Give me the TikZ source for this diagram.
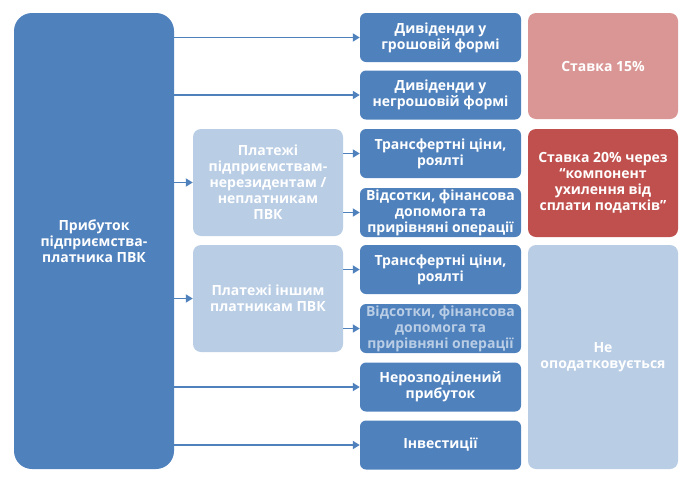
\documentclass[tikz,border=0pt]{standalone}
\usepackage{fontspec}
\setmainfont{Open Sans}
\usepackage{xcolor}
\usetikzlibrary{arrows.meta}

\definecolor{pvkblue}{HTML}{4F81BD}
\definecolor{pvklight}{HTML}{B9CDE5}
\definecolor{pvkpink}{HTML}{D99694}
\definecolor{pvkred}{HTML}{C0504D}

\begin{document}
\begin{tikzpicture}[x=1pt, y=-1pt,
            main/.style={rectangle, rounded corners=18pt, fill=pvkblue, text=white,
            minimum width=160pt, minimum height=456pt, align=center, font=\bfseries\fontsize{14}{16}\selectfont},
            grp/.style={rectangle, rounded corners=8pt, fill=pvklight, text=white,
            minimum width=150pt, minimum height=107pt, align=center, font=\bfseries\fontsize{14}{16}\selectfont},
            item/.style={rectangle, rounded corners=6pt, fill=pvkblue, text=white, inner sep=1pt,
            minimum width=161pt, minimum height=49pt, align=center, font=\bfseries\fontsize{14}{16}\selectfont},
            rate/.style={rectangle, rounded corners=8pt, text=white,
            minimum width=150pt, align=center, font=\bfseries\fontsize{14}{16}\selectfont},
            flow/.style={-{Triangle[length=7pt,width=8pt]}, line width=1.8pt, pvkblue}
        ]
            \useasboundingbox (0,0) rectangle (690,480);

            % Source
            \node[main] (prib)  at (94,241)    {Прибуток\\підприємства-\\платника ПВК};

            % Payment groups
            \node[grp]  (nonres) at (268,182.5) {Платежі\\підприємствам-\\нерезидентам /\\неплатникам\\ПВК};
            \node[grp]  (other)  at (268,298.5) {Платежі іншим\\платникам ПВК};

            % Items (right column)
            \node[item] (divcash) at (440.5,37.5)  {Дивіденди у\\грошовій формі};
            \node[item] (divnon)  at (440.5,95)    {Дивіденди у\\негрошовій формі};
            \node[item] (tp1)     at (440.5,153.5) {Трансфертні ціни,\\роялті};
            \node[item] (int1)    at (440.5,212.5) {Відсотки, фінансова\\допомога та\\прирівняні операції};
            \node[item] (tp2)     at (440.5,269.5) {Трансфертні ціни,\\роялті};
            \node[item, text=pvklight] (int2) at (440.5,328.5) {Відсотки, фінансова\\допомога та\\прирівняні операції};
            \node[item] (retain)  at (440.5,387)   {Нерозподілений\\прибуток};
            \node[item] (invest)  at (440.5,445)   {Інвестиції};

            % Tax rates
            \node[rate, fill=pvkpink,  minimum height=106pt] (r15)  at (603,66)    {Ставка 15\%};
            \node[rate, fill=pvkred,   minimum height=108pt] (r20)  at (603,183)   {Ставка 20\% через\\“компонент\\ухилення від\\сплати податків”};
            \node[rate, fill=pvklight, minimum height=224pt] (none) at (603,357)   {Не\\оподатковується};

            % Arrows from source
            \draw[flow] (prib.east |- divcash.west) -- (divcash.west);
            \draw[flow] (prib.east |- divnon.west)  -- (divnon.west);
            \draw[flow] (prib.east |- nonres.west)  -- (nonres.west);
            \draw[flow] (prib.east |- other.west)   -- (other.west);
            \draw[flow] (prib.east |- retain.west)  -- (retain.west);
            \draw[flow] (prib.east |- invest.west)  -- (invest.west);

            % Arrows from groups
            \draw[flow] (nonres.east |- tp1.west)  -- (tp1.west);
            \draw[flow] (nonres.east |- int1.west) -- (int1.west);
            \draw[flow] (other.east |- tp2.west)   -- (tp2.west);
            \draw[flow] (other.east |- int2.west)  -- (int2.west);

        \end{tikzpicture}
\end{document}
